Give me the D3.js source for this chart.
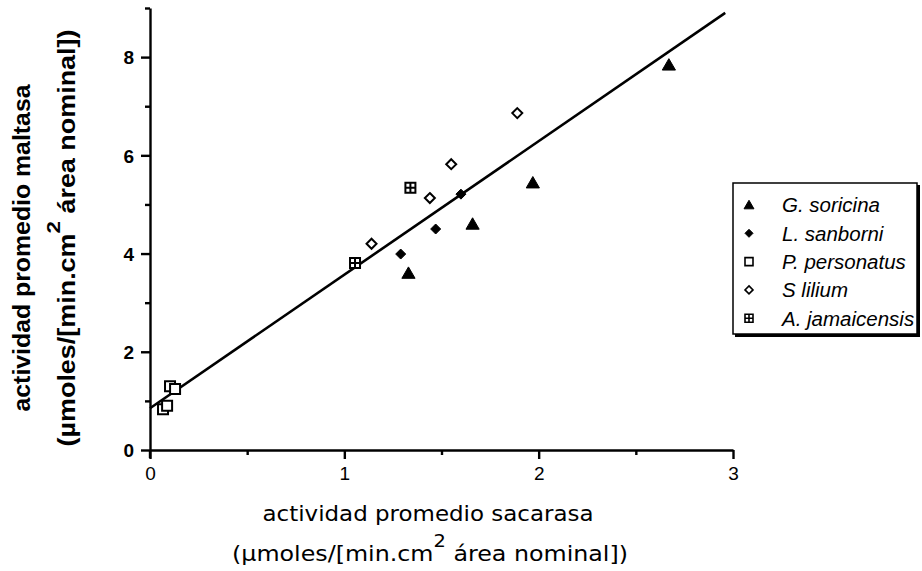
<!DOCTYPE html>
<html>
<head>
<meta charset="utf-8">
<script src="https://cdn.jsdelivr.net/npm/d3@7"></script>
<style>
  body { margin: 0; background: #fff; }
  svg { display: block; }
</style>
</head>
<body>
<svg id="chart" width="922" height="571"></svg>
<script>

// legend order
const species = ["G. soricina", "L. sanborni", "P. personatus", "S lilium", "A. jamaicensis"];
const shapes = ["triangle", "diamond", "square", "openDiamond", "crossSquare"];

// actividad promedio sacarasa (x) / maltasa (y), per species
const soricinaX = [1.33, 1.66, 1.97, 2.67];
const soricinaY = [3.60, 4.60, 5.44, 7.84];
const sanborniX = [1.29, 1.47, 1.60];
const sanborniY = [3.99, 4.50, 5.21];
const personatusX = [0.103, 0.129, 0.067, 0.088];
const personatusY = [1.30, 1.24, 0.83, 0.90];
const liliumX = [1.14, 1.44, 1.55, 1.89];
const liliumY = [4.20, 5.13, 5.82, 6.86];
const jamaicensisX = [1.055, 1.34];
const jamaicensisY = [3.81, 5.34];

// fitted line, end points
const fitX = [0, 2.96];
const fitY = [0.85, 8.9];

const xTicks = [0, 1, 2, 3];
const xMinor = [0.5, 1.5, 2.5];
const yTicks = [0, 2, 4, 6, 8];
const yMinor = [1, 3, 5, 7, 9];

const seriesX = [soricinaX, sanborniX, personatusX, liliumX, jamaicensisX];
const seriesY = [soricinaY, sanborniY, personatusY, liliumY, jamaicensisY];

const svg = d3.select("#chart");

const x = d3.scaleLinear().domain([0, 3]).range([150, 733]);
const y = d3.scaleLinear().domain([0, 9]).range([450, 8]);

// draws a marker of size s centred at 0,0
function markerPath(shape, s){
        let p = d3.path();
        let h = s / 2;
        if(shape === "triangle"){
                p.moveTo(0, -h * 1.05);
                p.lineTo(h * 1.1, h * 0.85);
                p.lineTo(-h * 1.1, h * 0.85);
                p.closePath();
        }else if(shape === "diamond" || shape === "openDiamond"){
                p.moveTo(0, -h);
                p.lineTo(h, 0);
                p.lineTo(0, h);
                p.lineTo(-h, 0);
                p.closePath();
        }else{
                p.rect(-h, -h, s, s);
                if(shape === "crossSquare"){
                        p.moveTo(0, -h);
                        p.lineTo(0, h);
                        p.moveTo(-h, 0);
                        p.lineTo(h, 0);
                }
        }
        return p.toString();
}

function styleMarker(sel, shape, sw){
        let filled = (shape === "triangle" || shape === "diamond");
        sel.attr("fill", filled ? "#000" : "#fff")
           .attr("stroke", "#000")
           .attr("stroke-width", filled ? 1 : sw)
           .attr("stroke-linejoin", "miter");
}

// axes
const axisG = svg.append("g").attr("font-family", "'Liberation Sans', Arial, sans-serif");

let xAxis = axisG.append("g")
        .attr("transform", `translate(0, ${y(0)})`)
        .call(d3.axisBottom(x).tickValues(xTicks).tickSize(9).tickSizeOuter(0).tickPadding(8).tickFormat(d3.format("d")));
axisG.append("g")
        .attr("transform", `translate(0, ${y(0)})`)
        .call(d3.axisBottom(x).tickValues(xMinor).tickSize(5).tickFormat(""))
        .select(".domain").remove();

let yAxis = axisG.append("g")
        .attr("transform", `translate(${x(0)}, 0)`)
        .call(d3.axisLeft(y).tickValues(yTicks).tickSize(9).tickSizeOuter(0).tickPadding(7).tickFormat(d3.format("d")));
axisG.append("g")
        .attr("transform", `translate(${x(0)}, 0)`)
        .call(d3.axisLeft(y).tickValues(yMinor).tickSize(5).tickFormat(""))
        .select(".domain").remove();

axisG.selectAll(".domain, .tick line").attr("stroke", "#000").attr("stroke-width", 2.4);
xAxis.selectAll(".tick text").attr("font-size", 19).attr("fill", "#000");
yAxis.selectAll(".tick text").attr("font-size", 19).attr("font-weight", "bold").attr("fill", "#000").attr("dy", "0.36em");

// y axis runs a bit past the x axis
axisG.append("line")
        .attr("x1", x(0)).attr("x2", x(0))
        .attr("y1", y(0)).attr("y2", y(0) + 8)
        .attr("stroke", "#000").attr("stroke-width", 2.4);

// fitted line
svg.append("line")
        .attr("x1", x(fitX[0])).attr("y1", y(fitY[0]))
        .attr("x2", x(fitX[1])).attr("y2", y(fitY[1]))
        .attr("stroke", "#000")
        .attr("stroke-width", 2.6);

// points
species.forEach((name, idx) => {
        let pts = seriesX[idx].map((v, i) => [v, seriesY[idx][i]]);
        let shape = shapes[idx];
        let size = shape === "triangle" ? 12 : 10;
        svg.append("g")
                .selectAll("path")
                .data(pts)
                .join("path")
                .attr("d", markerPath(shape, size))
                .attr("transform", d => `translate(${x(d[0])}, ${y(d[1])})`)
                .call(styleMarker, shape, 2);
});

// legend
const legend = svg.append("g").attr("transform", "translate(733, 183)");
legend.append("rect")
        .attr("x", 2).attr("y", 2).attr("width", 185).attr("height", 152)
        .attr("fill", "#000");
legend.append("rect")
        .attr("width", 184).attr("height", 151)
        .attr("fill", "#fff").attr("stroke", "#000").attr("stroke-width", 1.5);

let rows = legend.selectAll("g.row")
        .data(species)
        .join("g")
        .attr("class", "row")
        .attr("transform", (d, i) => `translate(0, ${22 + i * 28.3})`);

rows.append("path")
        .attr("d", (d, i) => markerPath(shapes[i], shapes[i] === "triangle" ? 9 : 8))
        .attr("transform", "translate(16, 0)")
        .each(function(d, i){ d3.select(this).call(styleMarker, shapes[i], 1.6) });

rows.append("text")
        .attr("x", 49)
        .attr("dy", "0.36em")
        .attr("font-family", "'Liberation Sans Narrow', 'Liberation Sans', Arial, sans-serif")
        .attr("font-style", "italic")
        .attr("font-size", 20.5)
        .text(d => d);

// axis titles
const xTitle = svg.append("g")
        .attr("font-family", "'DejaVu Sans', sans-serif")
        .attr("text-anchor", "middle")
        .attr("font-size", 22);
xTitle.append("text")
        .attr("x", 428).attr("y", 521)
        .attr("textLength", 331).attr("lengthAdjust", "spacingAndGlyphs")
        .text("actividad promedio sacarasa");
let xt2 = xTitle.append("text")
        .attr("x", 430).attr("y", 561)
        .attr("textLength", 396).attr("lengthAdjust", "spacingAndGlyphs");
xt2.append("tspan").text("(µmoles/[min.cm");
xt2.append("tspan").attr("dy", -14).attr("font-size", 18).text("2");
xt2.append("tspan").attr("dy", 14).text(" área nominal])");

const yTitle = svg.append("g")
        .attr("font-family", "'Liberation Sans', Arial, sans-serif")
        .attr("font-weight", "bold")
        .attr("text-anchor", "middle")
        .attr("font-size", 23);
yTitle.append("text")
        .attr("transform", "translate(30, 248) rotate(-90)")
        .attr("textLength", 327).attr("lengthAdjust", "spacingAndGlyphs")
        .text("actividad promedio maltasa");
let yt2 = yTitle.append("text")
        .attr("transform", "translate(75, 238) rotate(-90)")
        .attr("textLength", 417).attr("lengthAdjust", "spacingAndGlyphs");
yt2.append("tspan").text("(µmoles/[min.cm");
yt2.append("tspan").attr("dy", -15).attr("font-size", 19).text("2");
yt2.append("tspan").attr("dy", 15).text(" área nominal])");

</script>
</body>
</html>
